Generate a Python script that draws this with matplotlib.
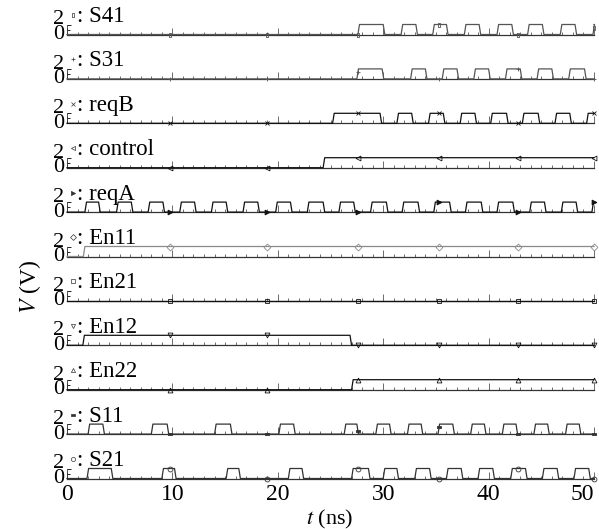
import numpy as np
import matplotlib
matplotlib.use('agg')
import matplotlib.pyplot as plt
from matplotlib.ticker import MultipleLocator, FixedLocator

plt.rcParams['font.family'] = ['Liberation Serif', 'DejaVu Serif']
plt.rcParams['mathtext.fontset'] = 'stix'

# signal names, top to bottom
names = ["S41", "S31", "reqB", "control", "reqA", "En11", "En21", "En12", "En22", "S11", "S21"]

# high pulses (t_on, t_off) in ns, 2 V high level
S41 = [(27.6, 30.0), (31.7, 33.1), (34.7, 36.0), (37.7, 39.1), (40.8, 42.2),
       (43.7, 45.1), (46.8, 48.2), (49.9, 50.0)]
S31 = [(27.5, 29.9), (32.6, 34.0), (35.6, 37.0), (38.6, 40.0), (41.6, 43.0),
       (44.6, 46.0), (47.6, 49.1)]
reqB = [(25.2, 29.7), (31.3, 32.7), (34.3, 35.7), (37.3, 38.7), (40.2, 41.7),
        (43.2, 44.7), (46.3, 47.7), (49.3, 50.0)]
control = [(24.3, 50.0)]
reqA = [(1.7, 3.0), (4.7, 6.1), (7.7, 9.1), (10.7, 12.1), (13.7, 15.1), (16.7, 18.1),
        (19.8, 21.2), (22.8, 24.3), (25.8, 27.2), (28.8, 30.3), (31.8, 33.3),
        (34.8, 36.3), (37.8, 39.3), (40.8, 42.3), (43.9, 45.3), (46.9, 48.3), (49.8, 50.0)]
En11 = [(1.55, 50.0)]
En21 = []
En12 = [(1.5, 26.85)]
En22 = [(27.0, 50.0)]
S11 = [(2.0, 3.4), (8.0, 9.5), (14.0, 15.5), (20.1, 21.5), (26.3, 27.5), (29.3, 30.6),
       (32.3, 33.6), (35.2, 36.6), (38.3, 39.6), (41.3, 42.6), (44.3, 45.6), (47.3, 48.6)]
S21 = [(1.9, 4.2), (9.0, 10.2), (15.1, 16.3), (21.0, 22.3), (27.0, 28.6), (30.0, 31.3),
       (33.0, 34.4), (36.0, 37.4), (39.0, 40.4), (42.1, 43.5), (45.1, 46.5), (48.1, 49.5)]
pulses = [S41, S31, reqB, control, reqA, En11, En21, En12, En22, S11, S21]

# marker times shared by all traces
marker_t = [9.8, 19.0, 27.6, 35.3, 42.8, 50.0]
x_ticks = [0, 10, 20, 30, 40, 50]

t_end = 50.0
v_high = 2.0

# marker styles per trace
rect_tall = [(-0.35, -1), (0.35, -1), (0.35, 1), (-0.35, 1), (-0.35, -1)]
rect_wide = [(-1, -0.4), (1, -0.4), (1, 0.4), (-1, 0.4), (-1, -0.4)]
markers = [rect_tall, '+', 'x', '<', '>', 'D', 's', 'v', '^', rect_wide, 'o']
mfill = [False, False, False, False, True, False, False, False, False, True, False]
colors = ['#555555', '#555555', '#111111', '#111111', '#111111', '#8a8a8a',
          '#111111', '#111111', '#111111', '#333333', '#333333']


def waveform(edges, rise=0.15):
    t = [0.0]
    v = [0.0]
    for on, off in edges:
        t += [on, on + rise]
        v += [0.0, v_high]
        if off >= t_end:
            t.append(t_end)
            v.append(v_high)
            return np.array(t), np.array(v)
        t += [off, off + rise]
        v += [v_high, 0.0]
    t.append(t_end)
    v.append(0.0)
    return np.array(t), np.array(v)


fig = plt.figure(figsize=(5.99, 5.29), dpi=100)
W, H = 599.0, 529.0
x0, x1 = 67, 594
panel_h = 40

axes = []
for i, name in enumerate(names):
    yb = 34.5 + 44.4 * i
    ax = fig.add_axes([x0 / W, 1 - yb / H, (x1 - x0) / W, panel_h / H])
    axes.append(ax)
    t, v = waveform(pulses[i])
    ax.plot(t, v, color=colors[i], lw=0.9, clip_on=False, zorder=3)
    mv = np.interp(marker_t, t, v)
    ax.plot(marker_t, mv, ls='none', marker=markers[i], ms=3.5, mew=0.6,
            mec=colors[i], mfc=colors[i] if mfill[i] else 'none', clip_on=False, zorder=4)
    # legend-like label
    ax.plot([0.6], [3.9], ls='none', marker=markers[i], ms=3, mew=0.5,
            mec='#333333', mfc='#333333' if mfill[i] else 'none', clip_on=False)
    ax.text(0.95, 2.5, ': ' + name, fontsize=16.5, va='baseline', ha='left')

    ax.set_xlim(0, 50)
    ax.set_ylim(0, 8)
    ax.patch.set_visible(False)
    for s in ['top', 'right']:
        ax.spines[s].set_visible(False)
    ax.spines['left'].set_bounds(0, 2)
    ax.spines['left'].set_linewidth(0.6)
    ax.spines['bottom'].set_linewidth(0.9)
    ax.spines['bottom'].set_color('#333333')
    ax.spines['left'].set_color('#333333')

    ax.set_xticks(x_ticks)
    ax.xaxis.set_minor_locator(MultipleLocator(1))
    ax.set_yticks([0, 2])
    ax.yaxis.set_minor_locator(FixedLocator([1]))
    ax.tick_params(axis='x', which='major', direction='in', length=5, width=0.6, color='#555555')
    ax.tick_params(axis='x', which='minor', direction='in', length=2.2, width=0.6, color='#555555')
    ax.tick_params(axis='y', which='major', direction='in', length=3, width=0.6,
                   labelsize=16, pad=2)
    ax.tick_params(axis='y', which='minor', direction='in', length=2, width=0.6)
    ax.set_yticklabels(['0', '2'])
    lbls = ax.get_yticklabels()
    lbls[0].set_va('center')
    lbls[1].set_va('baseline')
    if i < len(names) - 1:
        ax.tick_params(axis='x', labelbottom=False)
    else:
        ax.set_xticklabels([str(x) for x in x_ticks])
        ax.tick_params(axis='x', labelsize=17, pad=4)

fig.canvas.draw()
last = axes[-1].xaxis.get_major_ticks()[-1]
last.label1.set_ha('right')

fig.text(330 / W, 1 - 519 / H, '$t$ (ns)', fontsize=16, ha='center', va='center')
fig.text(30 / W, 1 - 287 / H, '$V$ (V)', fontsize=17, ha='center', va='center', rotation=90)

fig.savefig('out.png', dpi=100)
